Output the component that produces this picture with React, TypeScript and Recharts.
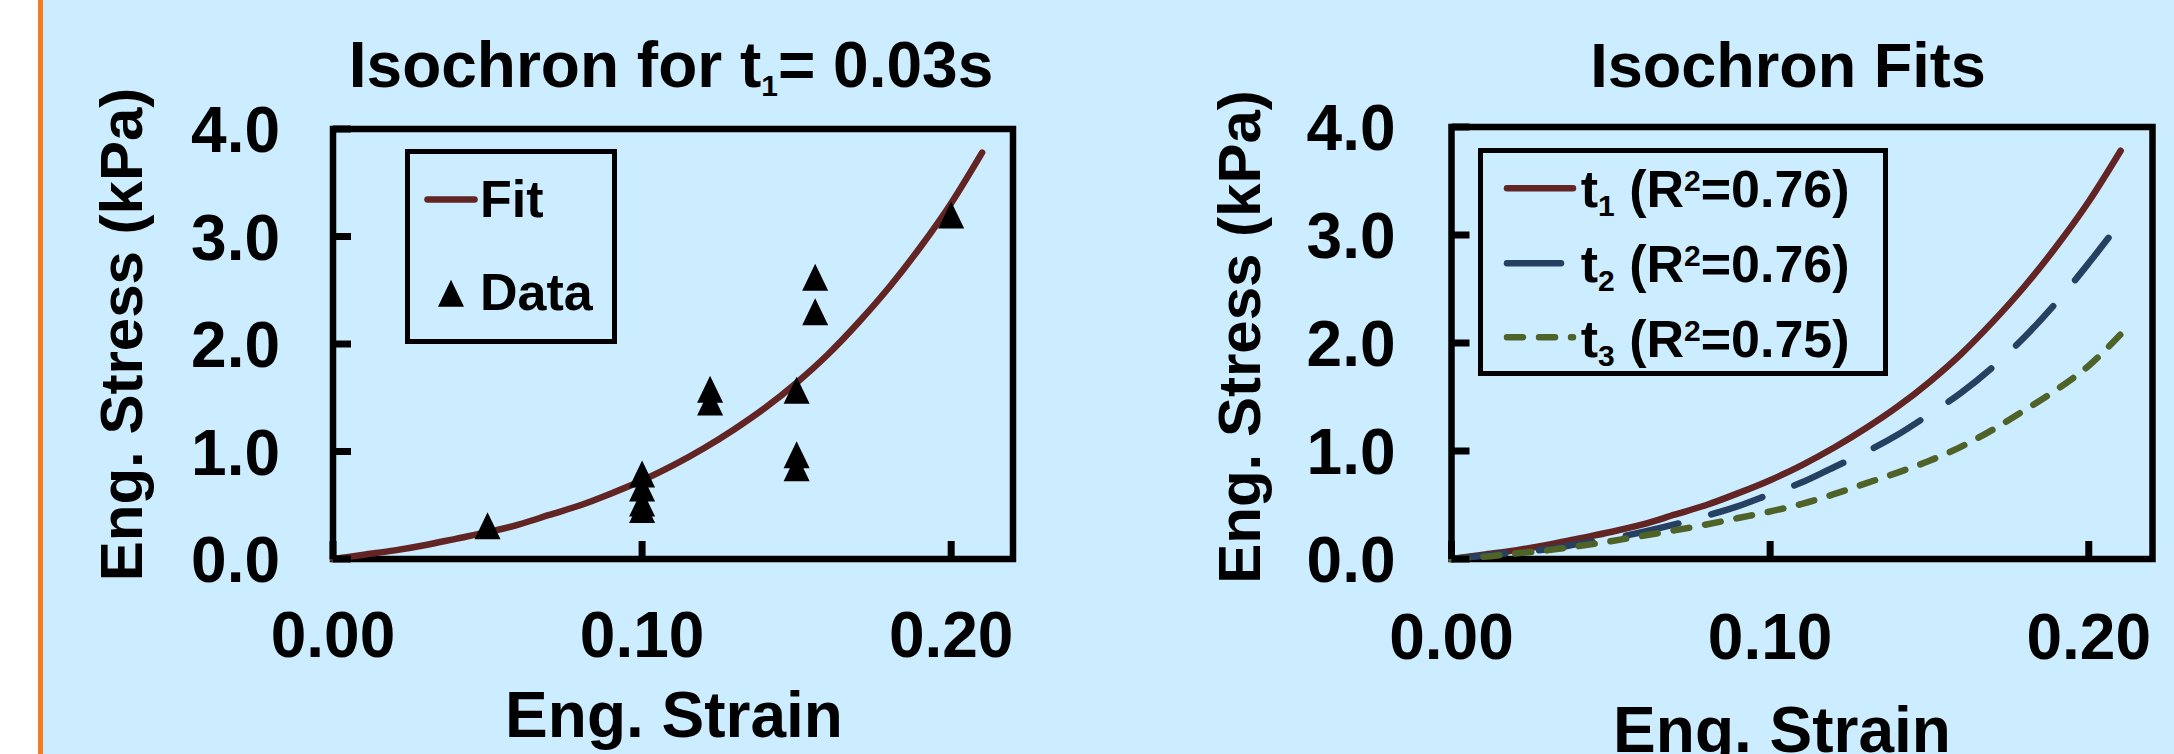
import React from "react";
import {
  ComposedChart,
  Line,
  Scatter,
  XAxis,
  YAxis,
  ReferenceArea,
  Legend,
  Label,
} from "recharts";

// strain grid shared by the fitted isochrons
const strainGrid = [
  0, 0.01, 0.02, 0.03, 0.04, 0.05, 0.06, 0.07, 0.08, 0.09, 0.1, 0.11, 0.12,
  0.13, 0.14, 0.15, 0.16, 0.17, 0.18, 0.19, 0.2, 0.21,
];
const t1Stress = [
  0, 0.04, 0.08, 0.13, 0.19, 0.25, 0.32, 0.41, 0.5, 0.61, 0.73, 0.87, 1.03,
  1.21, 1.41, 1.64, 1.9, 2.2, 2.53, 2.9, 3.31, 3.78,
];
const t2Stress = [
  0, 0.03, 0.06, 0.09, 0.14, 0.19, 0.25, 0.32, 0.4, 0.49, 0.6, 0.71, 0.85,
  0.99, 1.15, 1.34, 1.54, 1.78, 2.06, 2.38, 2.74, 3.12,
];
const t3Stress = [
  0, 0.02, 0.05, 0.08, 0.12, 0.165, 0.215, 0.265, 0.32, 0.38, 0.44, 0.51, 0.6,
  0.7, 0.8, 0.91, 1.04, 1.2, 1.38, 1.57, 1.79, 2.08,
];

// measured points for t1 = 0.03 s
const dataStrain = [
  0.05, 0.1, 0.1, 0.1, 0.1, 0.122, 0.122, 0.15, 0.15, 0.15, 0.156, 0.156, 0.2,
];
const dataStress = [
  0.31, 0.79, 0.66, 0.52, 0.46, 1.58, 1.46, 1.57, 0.97, 0.85, 2.62, 2.3, 3.2,
];

const xTicks = [0, 0.1, 0.2];
const yTicks = [0, 1, 2, 3, 4];
const fitNames = ["t1", "t2", "t3"];
const fitSubs = ["1", "2", "3"];
const rSquared = ["0.76", "0.76", "0.75"];

const fitColors = ["#632523", "#254061", "#4F6228"];
const fitDashes = [undefined, "54 34", "16 16"];

const FONT = '"Liberation Sans", Arial, Helvetica, sans-serif';
const BG = "#CCECFF";
const TICK_LEN = 18;

const toPoints = (xs: number[], ys: number[]) =>
  xs.map((x, i) => ({ x, y: ys[i] }));

const fitSeries = [t1Stress, t2Stress, t3Stress].map((s) =>
  toPoints(strainGrid, s)
);
const isoData = toPoints(dataStrain, dataStress);

const textProps = {
  fontFamily: FONT,
  fontWeight: 700,
  fill: "#000",
};

function makeYTick(gap: number) {
  return (p: any) => (
    <g>
      <line
        x1={p.x + gap}
        x2={p.x + gap + TICK_LEN}
        y1={p.y}
        y2={p.y}
        stroke="#000"
        strokeWidth={7}
      />
      <text x={p.x} y={p.y} dy="0.36em" textAnchor="end" fontSize={64} {...textProps}>
        {Number(p.payload.value).toFixed(1)}
      </text>
    </g>
  );
}

function makeXTick(gap: number) {
  return (p: any) => (
    <g>
      <line
        x1={p.x}
        x2={p.x}
        y1={p.y - gap}
        y2={p.y - gap - TICK_LEN}
        stroke="#000"
        strokeWidth={7}
      />
      <text x={p.x} y={p.y} dy="0.72em" textAnchor="middle" fontSize={64} {...textProps}>
        {Number(p.payload.value).toFixed(2)}
      </text>
    </g>
  );
}

function Triangle(p: any) {
  const { cx, cy } = p;
  return (
    <path
      d={`M${cx},${cy - 13.5}L${cx + 13},${cy + 13.5}L${cx - 13},${cy + 13.5}Z`}
      fill="#000"
    />
  );
}

const boxStyle = (w: number, h: number): React.CSSProperties => ({
  width: w,
  height: h,
  border: "5px solid #000",
  boxSizing: "border-box",
});

function renderFitLegend(props: any) {
  const payload = props.payload ?? [];
  const order = ["Fit", "Data"];
  const rowY = [45.5, 139.3];
  const baseY = [62.7, 156];
  return (
    <div style={boxStyle(212, 195)}>
      <svg width={202} height={185} style={{ display: "block" }}>
        {payload.map((entry: any) => {
          const i = order.indexOf(entry.value);
          if (i < 0) return null;
          return (
            <g key={entry.value}>
              {entry.type === "triangle" ? (
                <Triangle cx={41} cy={rowY[i]} />
              ) : (
                <line
                  x1={17.5}
                  x2={64.5}
                  y1={rowY[i]}
                  y2={rowY[i]}
                  stroke={entry.color}
                  strokeWidth={6.5}
                  strokeLinecap="round"
                />
              )}
              <text x={70} y={baseY[i]} fontSize={52} {...textProps}>
                {entry.value}
              </text>
            </g>
          );
        })}
      </svg>
    </div>
  );
}

function renderIsoLegend(props: any) {
  const payload = props.payload ?? [];
  const rowY = [35.3, 110.3, 184.3];
  const baseY = [54.3, 129.3, 204.3];
  return (
    <div style={boxStyle(410, 228)}>
      <svg width={400} height={218} style={{ display: "block" }}>
        {payload.map((entry: any) => {
          const i = fitNames.indexOf(entry.value);
          if (i < 0) return null;
          return (
            <g key={entry.value}>
              <line
                x1={24}
                x2={90}
                y1={rowY[i]}
                y2={rowY[i]}
                stroke={fitColors[i]}
                strokeWidth={6.5}
                strokeLinecap="round"
                strokeDasharray={fitDashes[i]}
              />
              <text x={97.7} y={baseY[i]} fontSize={52} {...textProps}>
                t
                <tspan fontSize={30} dy={9}>
                  {fitSubs[i]}
                </tspan>
                <tspan dy={-9}>{" (R"}</tspan>
                <tspan fontSize={30} dy={-16}>
                  2
                </tspan>
                <tspan dy={16}>{`=${rSquared[i]})`}</tspan>
              </text>
            </g>
          );
        })}
      </svg>
    </div>
  );
}

export default function App() {
  return (
    <div
      style={{
        position: "fixed",
        left: 0,
        top: 0,
        width: 2174,
        height: 754,
        background: BG,
        overflow: "hidden",
      }}
    >
      <div style={{ position: "absolute", left: 0, top: 0, width: 38, height: 754, background: "#fff" }} />
      <div style={{ position: "absolute", left: 38, top: 0, width: 4.5, height: 754, background: "#F47B20" }} />

      {/* left panel: isochron data with fit */}
      <div style={{ position: "absolute", left: 0, top: 0 }}>
        <ComposedChart
          width={1087}
          height={754}
          margin={{ top: 129, right: 74, bottom: 0, left: 0 }}
        >
          <XAxis
            type="number"
            dataKey="x"
            domain={[0, 0.22]}
            ticks={xTicks}
            interval={0}
            height={195}
            axisLine={false}
            tickLine={false}
            tickSize={0}
            tickMargin={52}
            tick={makeXTick(52)}
          >
            <Label
              content={() => (
                <text x={674} y={737} textAnchor="middle" fontSize={64} {...textProps}>
                  Eng. Strain
                </text>
              )}
            />
          </XAxis>
          <YAxis
            type="number"
            dataKey="y"
            domain={[0, 4]}
            ticks={yTicks}
            interval={0}
            width={333}
            axisLine={false}
            tickLine={false}
            tickSize={0}
            tickMargin={53}
            tick={makeYTick(53)}
          >
            <Label
              content={() => (
                <text
                  transform="translate(142,334.5) rotate(-90)"
                  textAnchor="middle"
                  fontSize={60}
                  {...textProps}
                >
                  Eng. Stress (kPa)
                </text>
              )}
            />
          </YAxis>
          <Line
            data={fitSeries[0]}
            dataKey="y"
            name="Fit"
            type="monotone"
            stroke={fitColors[0]}
            strokeWidth={6.5}
            strokeLinecap="round"
            dot={false}
            activeDot={false}
            isAnimationActive={false}
          />
          <Scatter
            data={isoData}
            dataKey="y"
            name="Data"
            fill="#000"
            shape={Triangle}
            legendType="triangle"
            isAnimationActive={false}
          />
          <ReferenceArea
            x1={0}
            x2={0.22}
            y1={0}
            y2={4}
            fill="none"
            stroke="#000"
            strokeWidth={6.5}
            ifOverflow="visible"
          />
          <Legend
            content={renderFitLegend}
            layout="vertical"
            align="center"
            verticalAlign="middle"
            wrapperStyle={{ left: 405, top: 149, width: 212, height: 195 }}
          />
        </ComposedChart>
      </div>

      {/* right panel: fits for t1..t3 */}
      <div style={{ position: "absolute", left: 1087, top: 0 }}>
        <ComposedChart
          width={1087}
          height={754}
          margin={{ top: 127, right: 21.5, bottom: 0, left: 0 }}
        >
          <XAxis
            type="number"
            dataKey="x"
            domain={[0, 0.22]}
            ticks={xTicks}
            interval={0}
            height={195}
            axisLine={false}
            tickLine={false}
            tickSize={0}
            tickMargin={54}
            tick={makeXTick(54)}
          >
            <Label
              content={() => (
                <text x={695} y={752} textAnchor="middle" fontSize={64} {...textProps}>
                  Eng. Strain
                </text>
              )}
            />
          </XAxis>
          <YAxis
            type="number"
            dataKey="y"
            domain={[0, 4]}
            ticks={yTicks}
            interval={0}
            width={364.5}
            axisLine={false}
            tickLine={false}
            tickSize={0}
            tickMargin={56}
            tick={makeYTick(56)}
          >
            <Label
              content={() => (
                <text
                  transform="translate(173,337) rotate(-90)"
                  textAnchor="middle"
                  fontSize={60}
                  {...textProps}
                >
                  Eng. Stress (kPa)
                </text>
              )}
            />
          </YAxis>
          {fitSeries.map((pts, i) => (
            <Line
              key={fitNames[i]}
              data={pts}
              dataKey="y"
              name={fitNames[i]}
              type="monotone"
              stroke={fitColors[i]}
              strokeWidth={6.5}
              strokeLinecap="round"
              strokeDasharray={fitDashes[i]}
              dot={false}
              activeDot={false}
              isAnimationActive={false}
            />
          ))}
          <ReferenceArea
            x1={0}
            x2={0.22}
            y1={0}
            y2={4}
            fill="none"
            stroke="#000"
            strokeWidth={6.5}
            ifOverflow="visible"
          />
          <Legend
            content={renderIsoLegend}
            layout="vertical"
            align="center"
            verticalAlign="middle"
            wrapperStyle={{ left: 391, top: 148, width: 410, height: 228 }}
          />
        </ComposedChart>
      </div>

      {/* panel titles */}
      <svg
        width={2174}
        height={754}
        style={{ position: "absolute", left: 0, top: 0, pointerEvents: "none" }}
      >
        <text x={671} y={87.3} textAnchor="middle" fontSize={64} {...textProps}>
          Isochron for t
          <tspan fontSize={30} dy={9}>
            1
          </tspan>
          <tspan dy={-9}>= 0.03s</tspan>
        </text>
        <text x={1788} y={86.5} textAnchor="middle" fontSize={63} {...textProps}>
          Isochron Fits
        </text>
      </svg>
    </div>
  );
}
